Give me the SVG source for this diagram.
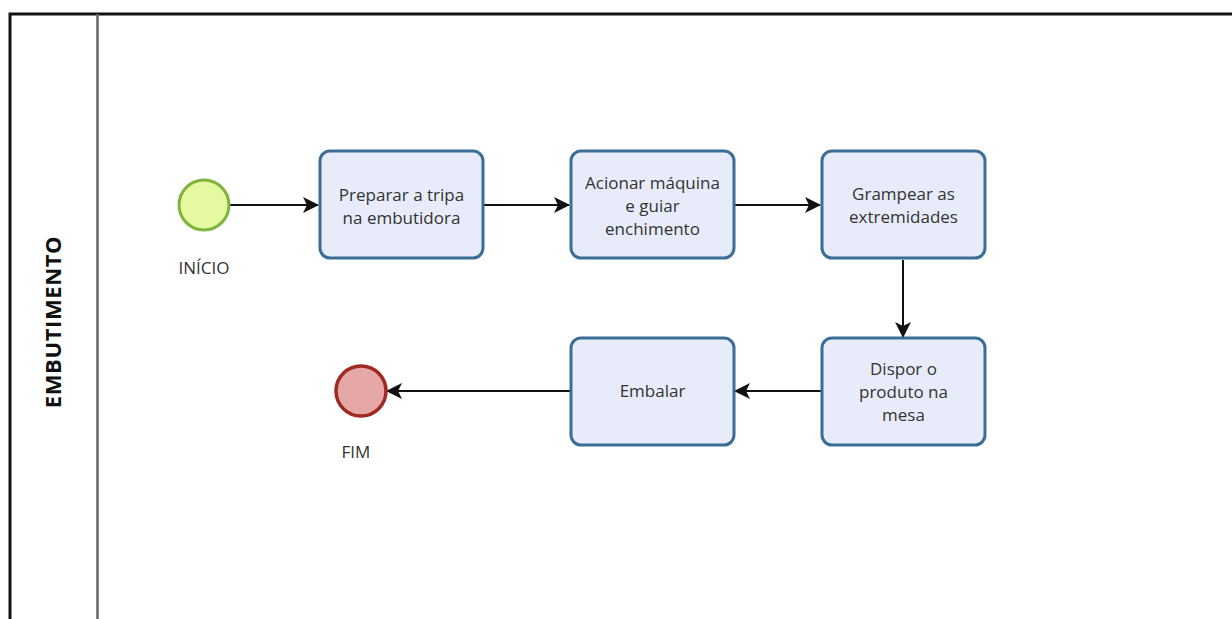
<svg xmlns="http://www.w3.org/2000/svg" width="1232" height="619" viewBox="0 0 1232 619">
<defs>
<style>
.task{fill:#e8ecfa;stroke:#3b6e96;stroke-width:3}
.t{font-family:"Open Sans","Noto Sans",sans-serif;font-size:17px;fill:#333;text-anchor:middle}
.conn{stroke:#111;stroke-width:2;fill:none}
</style>
<marker id="ah" viewBox="0 0 16 16" refX="15" refY="8" markerWidth="16" markerHeight="16" markerUnits="userSpaceOnUse" orient="auto">
<path d="M0,0 L16,8 L0,16 L4,8 Z" fill="#111"/>
</marker>
</defs>
<rect width="1232" height="619" fill="#fff"/>
<g id="pool">
<path d="M10,619 V14 H1232" fill="none" stroke="#111" stroke-width="3"/>
<line x1="97.5" y1="14" x2="97.5" y2="619" stroke="#666" stroke-width="2.5"/>
<text transform="translate(61,322) rotate(-90)" font-family="'Open Sans','Noto Sans',sans-serif" font-size="22" font-weight="bold" letter-spacing="0.6" fill="#111" text-anchor="middle">EMBUTIMENTO</text>
</g>
<g id="connectors">
<line class="conn" x1="230" y1="205" x2="318" y2="205" marker-end="url(#ah)"/>
<line class="conn" x1="484" y1="205" x2="569" y2="205" marker-end="url(#ah)"/>
<line class="conn" x1="735" y1="205" x2="820" y2="205" marker-end="url(#ah)"/>
<line class="conn" x1="903" y1="260" x2="903" y2="337" marker-end="url(#ah)"/>
<line class="conn" x1="822" y1="391" x2="735" y2="391" marker-end="url(#ah)"/>
<line class="conn" x1="571" y1="391" x2="387" y2="391" marker-end="url(#ah)"/>
</g>
<g id="start">
<circle cx="204" cy="205" r="25" fill="#e5f9a0" stroke="#7fb33d" stroke-width="3"/>
<text class="t" x="204" y="274">INÍCIO</text>
</g>
<g id="task1">
<rect class="task" x="320" y="151" width="163" height="107" rx="10"/>
<text class="t" x="401.5" y="201">Preparar a tripa</text>
<text class="t" x="401.5" y="224">na embutidora</text>
</g>
<g id="task2">
<rect class="task" x="571" y="151" width="163" height="107" rx="10"/>
<text class="t" x="652.5" y="189">Acionar máquina</text>
<text class="t" x="652.5" y="212">e guiar</text>
<text class="t" x="652.5" y="235">enchimento</text>
</g>
<g id="task3">
<rect class="task" x="822" y="151" width="163" height="107" rx="10"/>
<text class="t" x="903.5" y="200">Grampear as</text>
<text class="t" x="903.5" y="223">extremidades</text>
</g>
<g id="task4">
<rect class="task" x="822" y="338" width="163" height="107" rx="10"/>
<text class="t" x="903.5" y="375">Dispor o</text>
<text class="t" x="903.5" y="398">produto na</text>
<text class="t" x="903.5" y="421">mesa</text>
</g>
<g id="task5">
<rect class="task" x="571" y="338" width="163" height="107" rx="10"/>
<text class="t" x="652.5" y="397">Embalar</text>
</g>
<g id="end">
<circle cx="361" cy="391" r="25" fill="#e6a7a7" stroke="#9e2a22" stroke-width="3.5"/>
<text class="t" x="356" y="458">FIM</text>
</g>
</svg>
